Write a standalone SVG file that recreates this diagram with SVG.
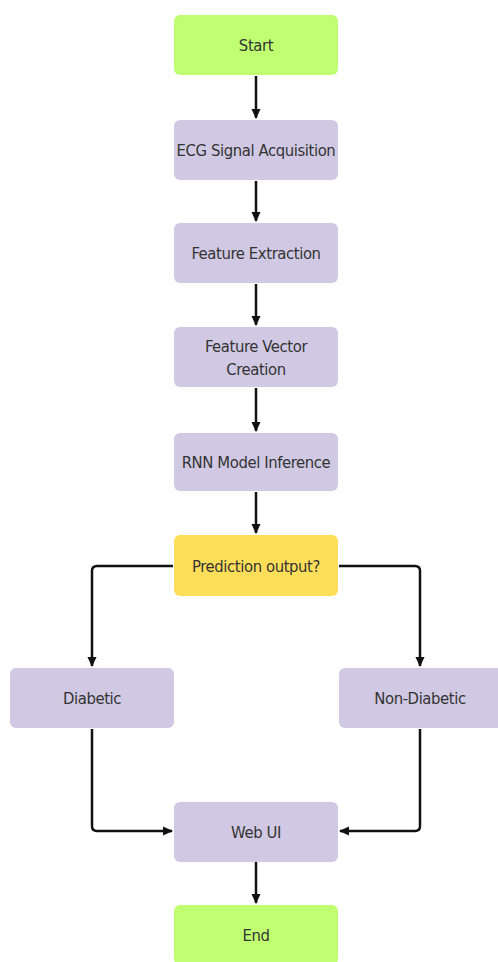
<svg xmlns="http://www.w3.org/2000/svg" width="498" height="962" viewBox="0 0 498 962">
  <style>
    .box { stroke: none; }
    .term { fill: #c1ff72; }
    .step { fill: #d1c9e3; }
    .dec { fill: #ffde59; }
    .lbl { font-family: "DejaVu Sans Condensed", "DejaVu Sans", "Liberation Sans", sans-serif; font-stretch: condensed; font-size: 16.5px; fill: #333; text-anchor: middle; dominant-baseline: central; letter-spacing: -0.4px; }
    .wire { fill: none; stroke: #111; stroke-width: 2.5; }
  </style>
  <defs>
    <marker id="ah" viewBox="0 0 10 10" refX="9" refY="5" markerWidth="10" markerHeight="10" orient="auto" markerUnits="userSpaceOnUse">
      <path d="M0,0.5 L10,5 L0,9.5 z" fill="#111"/>
    </marker>
  </defs>
  <rect width="498" height="962" fill="#fff"/>

  <g id="connectors">
    <path class="wire" d="M256,76 V118" marker-end="url(#ah)"/>
    <path class="wire" d="M256,181 V221" marker-end="url(#ah)"/>
    <path class="wire" d="M256,284 V325" marker-end="url(#ah)"/>
    <path class="wire" d="M256,388 V431" marker-end="url(#ah)"/>
    <path class="wire" d="M256,492 V533" marker-end="url(#ah)"/>
    <path class="wire" d="M173,566 H97 Q92,566 92,571 V666" marker-end="url(#ah)"/>
    <path class="wire" d="M339,566 H415 Q420,566 420,571 V666" marker-end="url(#ah)"/>
    <path class="wire" d="M92,729 V826 Q92,831 97,831 H172" marker-end="url(#ah)"/>
    <path class="wire" d="M420,729 V826 Q420,831 415,831 H340" marker-end="url(#ah)"/>
    <path class="wire" d="M256,862 V903" marker-end="url(#ah)"/>
  </g>

  <g id="start">
    <rect class="box term" x="174" y="15" width="164" height="60" rx="6"/>
    <text class="lbl" x="256" y="45">Start</text>
  </g>
  <g id="ecg">
    <rect class="box step" x="174" y="120" width="164" height="60" rx="6"/>
    <text class="lbl" x="256" y="150">ECG Signal Acquisition</text>
  </g>
  <g id="extract">
    <rect class="box step" x="174" y="223" width="164" height="60" rx="6"/>
    <text class="lbl" x="256" y="253">Feature Extraction</text>
  </g>
  <g id="vector">
    <rect class="box step" x="174" y="327" width="164" height="60" rx="6"/>
    <text class="lbl" x="256" y="346">Feature Vector</text>
    <text class="lbl" x="256" y="369">Creation</text>
  </g>
  <g id="rnn">
    <rect class="box step" x="174" y="433" width="164" height="58" rx="6"/>
    <text class="lbl" x="256" y="462">RNN Model Inference</text>
  </g>
  <g id="decision">
    <rect class="box dec" x="174" y="535" width="164" height="61" rx="6"/>
    <text class="lbl" x="256" y="566">Prediction output?</text>
  </g>
  <g id="diabetic">
    <rect class="box step" x="10" y="668" width="164" height="60" rx="6"/>
    <text class="lbl" x="92" y="698">Diabetic</text>
  </g>
  <g id="nondiabetic">
    <rect class="box step" x="339" y="668" width="164" height="60" rx="6"/>
    <text class="lbl" x="420" y="698">Non-Diabetic</text>
  </g>
  <g id="webui">
    <rect class="box step" x="174" y="802" width="164" height="60" rx="6"/>
    <text class="lbl" x="256" y="832">Web UI</text>
  </g>
  <g id="end">
    <rect class="box term" x="174" y="905" width="164" height="60" rx="6"/>
    <text class="lbl" x="256" y="935">End</text>
  </g>
</svg>
